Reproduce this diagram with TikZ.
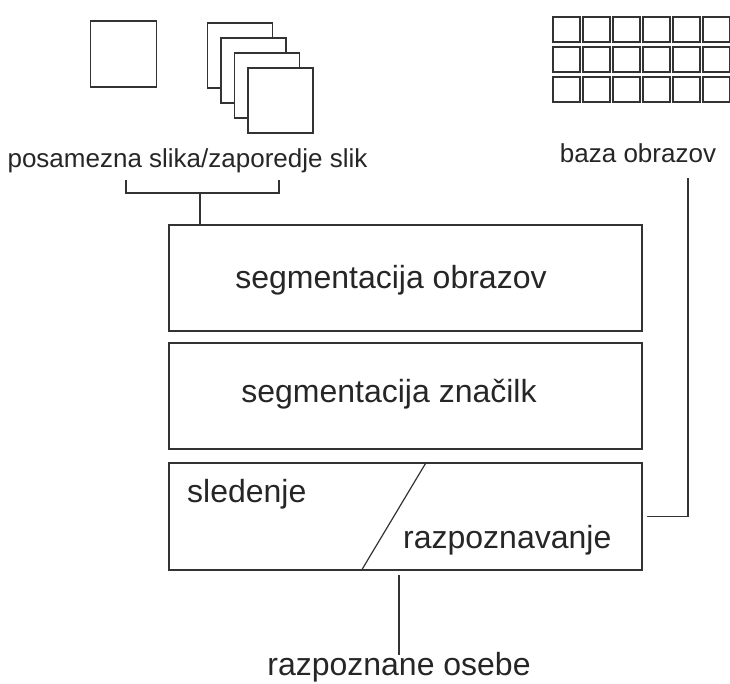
\documentclass[tikz,border=0pt]{standalone}
\usepackage{fontspec}
\setmainfont{Liberation Sans}
\usetikzlibrary{positioning,calc}
\colorlet{crta}{black!80}
\tikzset{
  blok/.style={draw=crta,line width=1.5pt,minimum width=473pt,minimum height=106pt,inner sep=0pt},
  okvir/.style={draw=crta,line width=1.5pt,fill=white,minimum size=65pt,inner sep=0pt},
  celica/.style={draw=crta,line width=1.4pt,minimum width=27pt,minimum height=25pt,inner sep=0pt},
  velik/.style={font=\fontsize{32}{38}\selectfont,text=black!85,anchor=base,inner sep=0pt},
  mali/.style={font=\fontsize{26}{31}\selectfont,text=black!85,anchor=base,inner sep=0pt},
  vez/.style={draw=crta,line width=1.4pt}
}

\begin{document}
\begin{tikzpicture}[x=1pt,y=-1pt]
  \useasboundingbox (0,0) rectangle (730,684);
  % vhod: posamezna slika in zaporedje slik
  \node[okvir,minimum size=66pt] (slika) at (123.5,54) {};
  \foreach \i in {0,1,2,3}
    \node[okvir] (zap\i) at (240+13.5*\i,55.5+15*\i) {};
  \node[mali] (vhod) at (187.5,168) {posamezna slika/zaporedje slik};
  % baza obrazov
  \foreach \r in {0,1,2}
    \foreach \s in {0,...,5}
      \node[celica] (baza\r\s) at (566.5+30*\s,29.5+30*\r) {};
  \node[mali] (baza) at (638,163) {baza obrazov};
  % bloki
  \node[blok] (b1) at (405.5,278) {};
  \node[blok] (b2) at (405.5,396) {};
  \node[blok,minimum height=107pt] (b3) at (405.5,516.5) {};
  \node[velik] (t1) at (391,289) {segmentacija obrazov};
  \node[velik] (t2) at (389,402) {segmentacija značilk};
  \node[velik,anchor=base west] (t3) at (187,502) {sledenje};
  \node[velik,anchor=base west] (t4) at (403,548) {razpoznavanje};
  \coordinate (d1) at ($(b3.north west)+(258,0)$);
  \coordinate (d2) at ($(b3.south west)+(193,0)$);
  \draw[crta,line width=1.2pt] (d1) -- (d2);
  % izhod
  \node[velik] (izhod) at (399,675) {razpoznane osebe};
  % povezave
  \coordinate (ol) at (126,180);
  \coordinate (od) at (279,180);
  \coordinate (oc) at (200,193);
  \draw[vez] (ol) |- (oc) -| (od);
  \draw[vez] (oc) -- (oc |- b1.north);
  \coordinate (bz) at (688,178);
  \draw[vez,shorten <=4pt] (b3.east) -| (bz);
  \draw[vez,shorten <=4pt,shorten >=20pt] (b3.south -| izhod) -- (izhod.base);
\end{tikzpicture}
\end{document}
